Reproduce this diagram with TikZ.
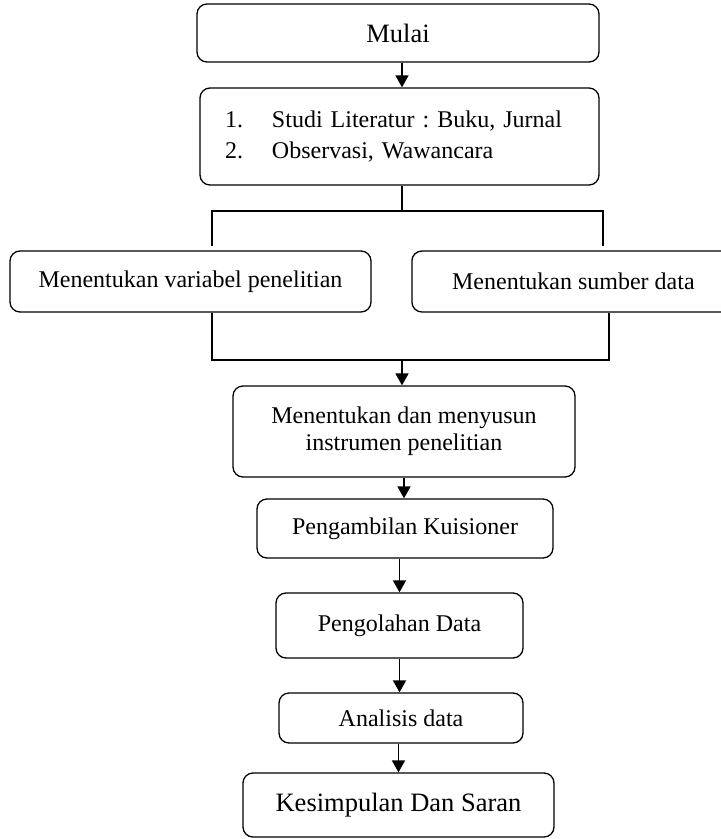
\documentclass[tikz,border=0pt]{standalone}
\usepackage{fontspec}
\setmainfont{Liberation Serif}
\usepackage{tikz}
\usetikzlibrary{arrows, arrows.meta}
\frenchspacing
\tikzset{
	font={\upshape\selectfont}}
\tikzstyle{rect_round} = [rectangle, rounded corners=10pt, draw=black, line width=1.3pt, align=center, inner sep=0pt, font=\fontsize{24}{27}\selectfont]
\tikzstyle{rect_big} = [rect_round, font=\fontsize{26.5}{30}\selectfont]
\tikzstyle{arrow} = [line width=1.7pt, -{Triangle[width=13pt,length=12pt]}]
\tikzstyle{line} = [line width=1.7pt, -]

\begin{document}
\begin{tikzpicture}[x=1pt, y=-1pt]
\useasboundingbox (0,0) rectangle (721,839);

\node[rect_big, minimum width=402pt, minimum height=58pt](mulai) at (398,33) {Mulai};
\node[rect_round, minimum height=97pt, text width=349pt, inner xsep=25pt, align=left, font=\fontsize{24}{31}\selectfont](studi) at (399.5,136.5) {\makebox[47pt][l]{1.}Studi Literatur : Buku, Jurnal\\\makebox[47pt][l]{2.}Observasi, Wawancara};
\node[rect_round, minimum width=361pt, minimum height=61pt](variabel) at (190.5,281.5) {Menentukan variabel penelitian};
\node[rect_round, minimum width=323pt, minimum height=61pt](sumber) at (573.4,281.5) {Menentukan sumber data};
\node[rect_round, minimum width=342pt, minimum height=91pt](instrumen) at (404,431.5) {Menentukan dan menyusun\\instrumen penelitian};
\node[rect_round, minimum width=296pt, minimum height=59pt](kuisioner) at (405,528.5) {Pengambilan Kuisioner};
\node[rect_round, minimum width=247pt, minimum height=65pt](olahdata) at (399.5,625.5) {Pengolahan Data};
\node[rect_round, minimum width=244pt, minimum height=50pt](analisis) at (401,718) {Analisis data};
\node[rect_big, minimum width=311pt, minimum height=64pt](kesimpulan) at (398.5,805) {Kesimpulan Dan Saran};

% Verbindungspunkte
\coordinate (spine) at (402,0);
\coordinate (split) at (402,211);
\coordinate (splitleft) at (212,211);
\coordinate (splitright) at (603,211);
\coordinate (joinleft) at (212,360);
\coordinate (joinright) at (609,360);
\coordinate (join) at (402,359);

\draw[arrow](mulai.south -| spine) -- (studi.north -| spine);
\draw[line](studi.south -| spine) -- (split);
\draw[line]([yshift=4pt]variabel.north -| splitleft) |- (splitright) -- ([yshift=4pt]sumber.north -| splitright);
\draw[line](variabel.south -| joinleft) |- (joinright) -- (sumber.south -| joinright);
\draw[arrow](join) -- (instrumen.north -| join);
\draw[arrow](instrumen.south) -- (kuisioner.north -| instrumen.south);
\draw[arrow](kuisioner.south -| olahdata.north) -- (olahdata.north);
\draw[arrow](olahdata.south) -- (olahdata.south |- analisis.north);
\draw[arrow](analisis.south -| kesimpulan.north) -- (kesimpulan.north);

\end{tikzpicture}
\end{document}
